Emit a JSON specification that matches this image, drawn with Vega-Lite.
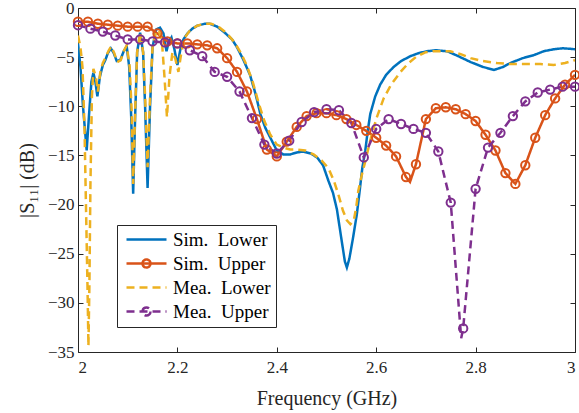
{
  "$schema": "https://vega.github.io/schema/vega-lite/v6.json",
  "width": 497,
  "height": 344,
  "autosize": {"type": "none"},
  "padding": {"left": 78, "top": 8, "right": 4, "bottom": 61},
  "background": "white",
  "config": {
    "view": {"stroke": "#262626", "strokeWidth": 1},
    "font": "Liberation Serif",
    "axis": {"grid": false, "domain": false, "tickColor": "#262626", "tickWidth": 1, "tickSize": -5, "labelFont": "Liberation Serif", "labelFontSize": 17, "labelColor": "#262626", "titleFont": "Liberation Serif", "titleFontSize": 20, "titleFontWeight": "normal", "titleColor": "#262626"}
  },
  "data": {"values": [
    {"s":"Sim. Lower","f":2.000,"db":-3.6,"m":0},{"s":"Sim. Lower","f":2.005,"db":-6.0,"m":0},{"s":"Sim. Lower","f":2.010,"db":-10.0,"m":0},{"s":"Sim. Lower","f":2.0175,"db":-14.5,"m":0},{"s":"Sim. Lower","f":2.022,"db":-11.0,"m":0},{"s":"Sim. Lower","f":2.027,"db":-7.5,"m":0},{"s":"Sim. Lower","f":2.031,"db":-6.6,"m":0},{"s":"Sim. Lower","f":2.035,"db":-7.5,"m":0},{"s":"Sim. Lower","f":2.039,"db":-9.0,"m":0},{"s":"Sim. Lower","f":2.044,"db":-7.0,"m":0},{"s":"Sim. Lower","f":2.050,"db":-5.8,"m":0},{"s":"Sim. Lower","f":2.055,"db":-5.3,"m":0},{"s":"Sim. Lower","f":2.060,"db":-4.6,"m":0},{"s":"Sim. Lower","f":2.066,"db":-4.1,"m":0},{"s":"Sim. Lower","f":2.072,"db":-4.6,"m":0},{"s":"Sim. Lower","f":2.078,"db":-5.4,"m":0},{"s":"Sim. Lower","f":2.085,"db":-5.3,"m":0},{"s":"Sim. Lower","f":2.092,"db":-4.4,"m":0},{"s":"Sim. Lower","f":2.098,"db":-3.9,"m":0},{"s":"Sim. Lower","f":2.103,"db":-6.0,"m":0},{"s":"Sim. Lower","f":2.107,"db":-11.0,"m":0},{"s":"Sim. Lower","f":2.111,"db":-18.9,"m":0},{"s":"Sim. Lower","f":2.115,"db":-11.0,"m":0},{"s":"Sim. Lower","f":2.119,"db":-4.5,"m":0},{"s":"Sim. Lower","f":2.125,"db":-2.5,"m":0},{"s":"Sim. Lower","f":2.131,"db":-4.5,"m":0},{"s":"Sim. Lower","f":2.135,"db":-10.0,"m":0},{"s":"Sim. Lower","f":2.140,"db":-18.3,"m":0},{"s":"Sim. Lower","f":2.145,"db":-10.0,"m":0},{"s":"Sim. Lower","f":2.150,"db":-4.0,"m":0},{"s":"Sim. Lower","f":2.157,"db":-2.2,"m":0},{"s":"Sim. Lower","f":2.165,"db":-2.0,"m":0},{"s":"Sim. Lower","f":2.172,"db":-2.6,"m":0},{"s":"Sim. Lower","f":2.178,"db":-4.4,"m":0},{"s":"Sim. Lower","f":2.183,"db":-3.4,"m":0},{"s":"Sim. Lower","f":2.188,"db":-3.0,"m":0},{"s":"Sim. Lower","f":2.194,"db":-4.2,"m":0},{"s":"Sim. Lower","f":2.200,"db":-5.8,"m":0},{"s":"Sim. Lower","f":2.206,"db":-4.2,"m":0},{"s":"Sim. Lower","f":2.212,"db":-3.2,"m":0},{"s":"Sim. Lower","f":2.220,"db":-2.6,"m":0},{"s":"Sim. Lower","f":2.230,"db":-2.1,"m":0},{"s":"Sim. Lower","f":2.240,"db":-1.8,"m":0},{"s":"Sim. Lower","f":2.255,"db":-1.6,"m":0},{"s":"Sim. Lower","f":2.265,"db":-1.6,"m":0},{"s":"Sim. Lower","f":2.280,"db":-1.9,"m":0},{"s":"Sim. Lower","f":2.295,"db":-2.5,"m":0},{"s":"Sim. Lower","f":2.310,"db":-3.2,"m":0},{"s":"Sim. Lower","f":2.320,"db":-4.0,"m":0},{"s":"Sim. Lower","f":2.333,"db":-5.3,"m":0},{"s":"Sim. Lower","f":2.346,"db":-6.8,"m":0},{"s":"Sim. Lower","f":2.357,"db":-8.7,"m":0},{"s":"Sim. Lower","f":2.367,"db":-10.8,"m":0},{"s":"Sim. Lower","f":2.377,"db":-12.2,"m":0},{"s":"Sim. Lower","f":2.387,"db":-13.2,"m":0},{"s":"Sim. Lower","f":2.400,"db":-14.5,"m":0},{"s":"Sim. Lower","f":2.413,"db":-14.9,"m":0},{"s":"Sim. Lower","f":2.427,"db":-14.9,"m":0},{"s":"Sim. Lower","f":2.440,"db":-14.7,"m":0},{"s":"Sim. Lower","f":2.453,"db":-14.6,"m":0},{"s":"Sim. Lower","f":2.468,"db":-14.8,"m":0},{"s":"Sim. Lower","f":2.481,"db":-15.2,"m":0},{"s":"Sim. Lower","f":2.493,"db":-16.0,"m":0},{"s":"Sim. Lower","f":2.504,"db":-17.6,"m":0},{"s":"Sim. Lower","f":2.513,"db":-18.8,"m":0},{"s":"Sim. Lower","f":2.521,"db":-20.5,"m":0},{"s":"Sim. Lower","f":2.530,"db":-23.5,"m":0},{"s":"Sim. Lower","f":2.537,"db":-25.8,"m":0},{"s":"Sim. Lower","f":2.541,"db":-26.4,"m":0},{"s":"Sim. Lower","f":2.546,"db":-25.5,"m":0},{"s":"Sim. Lower","f":2.553,"db":-23.5,"m":0},{"s":"Sim. Lower","f":2.561,"db":-21.0,"m":0},{"s":"Sim. Lower","f":2.567,"db":-18.5,"m":0},{"s":"Sim. Lower","f":2.572,"db":-16.3,"m":0},{"s":"Sim. Lower","f":2.578,"db":-14.5,"m":0},{"s":"Sim. Lower","f":2.583,"db":-12.5,"m":0},{"s":"Sim. Lower","f":2.588,"db":-10.8,"m":0},{"s":"Sim. Lower","f":2.598,"db":-9.0,"m":0},{"s":"Sim. Lower","f":2.608,"db":-7.8,"m":0},{"s":"Sim. Lower","f":2.620,"db":-6.8,"m":0},{"s":"Sim. Lower","f":2.635,"db":-6.0,"m":0},{"s":"Sim. Lower","f":2.650,"db":-5.4,"m":0},{"s":"Sim. Lower","f":2.669,"db":-4.9,"m":0},{"s":"Sim. Lower","f":2.685,"db":-4.6,"m":0},{"s":"Sim. Lower","f":2.702,"db":-4.4,"m":0},{"s":"Sim. Lower","f":2.720,"db":-4.3,"m":0},{"s":"Sim. Lower","f":2.743,"db":-4.4,"m":0},{"s":"Sim. Lower","f":2.765,"db":-4.9,"m":0},{"s":"Sim. Lower","f":2.790,"db":-5.5,"m":0},{"s":"Sim. Lower","f":2.815,"db":-6.0,"m":0},{"s":"Sim. Lower","f":2.837,"db":-6.3,"m":0},{"s":"Sim. Lower","f":2.855,"db":-6.0,"m":0},{"s":"Sim. Lower","f":2.870,"db":-5.6,"m":0},{"s":"Sim. Lower","f":2.895,"db":-5.1,"m":0},{"s":"Sim. Lower","f":2.917,"db":-4.8,"m":0},{"s":"Sim. Lower","f":2.937,"db":-4.4,"m":0},{"s":"Sim. Lower","f":2.957,"db":-4.2,"m":0},{"s":"Sim. Lower","f":2.975,"db":-4.1,"m":0},{"s":"Sim. Lower","f":2.990,"db":-4.15,"m":0},{"s":"Sim. Lower","f":3.000,"db":-4.2,"m":0},

    {"s":"Sim. Upper","f":2.00,"db":-1.4,"m":1},{"s":"Sim. Upper","f":2.02,"db":-1.4,"m":1},{"s":"Sim. Upper","f":2.04,"db":-1.6,"m":1},{"s":"Sim. Upper","f":2.06,"db":-1.7,"m":1},{"s":"Sim. Upper","f":2.08,"db":-1.8,"m":1},{"s":"Sim. Upper","f":2.10,"db":-1.9,"m":1},{"s":"Sim. Upper","f":2.12,"db":-1.9,"m":1},{"s":"Sim. Upper","f":2.14,"db":-1.9,"m":1},{"s":"Sim. Upper","f":2.16,"db":-2.6,"m":1},{"s":"Sim. Upper","f":2.18,"db":-3.4,"m":1},{"s":"Sim. Upper","f":2.20,"db":-3.6,"m":1},{"s":"Sim. Upper","f":2.22,"db":-3.6,"m":1},{"s":"Sim. Upper","f":2.24,"db":-3.7,"m":1},{"s":"Sim. Upper","f":2.26,"db":-3.8,"m":1},{"s":"Sim. Upper","f":2.28,"db":-4.1,"m":1},{"s":"Sim. Upper","f":2.30,"db":-5.1,"m":1},{"s":"Sim. Upper","f":2.32,"db":-6.5,"m":1},{"s":"Sim. Upper","f":2.34,"db":-8.5,"m":1},{"s":"Sim. Upper","f":2.36,"db":-11.3,"m":1},{"s":"Sim. Upper","f":2.38,"db":-14.4,"m":1},{"s":"Sim. Upper","f":2.40,"db":-15.1,"m":1},{"s":"Sim. Upper","f":2.42,"db":-13.6,"m":1},{"s":"Sim. Upper","f":2.44,"db":-12.1,"m":1},{"s":"Sim. Upper","f":2.46,"db":-11.0,"m":1},{"s":"Sim. Upper","f":2.48,"db":-10.7,"m":1},{"s":"Sim. Upper","f":2.50,"db":-10.7,"m":1},{"s":"Sim. Upper","f":2.52,"db":-10.9,"m":1},{"s":"Sim. Upper","f":2.54,"db":-11.3,"m":1},{"s":"Sim. Upper","f":2.56,"db":-11.9,"m":1},{"s":"Sim. Upper","f":2.58,"db":-12.5,"m":1},{"s":"Sim. Upper","f":2.60,"db":-13.2,"m":1},{"s":"Sim. Upper","f":2.62,"db":-14.0,"m":1},{"s":"Sim. Upper","f":2.64,"db":-15.1,"m":1},{"s":"Sim. Upper","f":2.66,"db":-17.2,"m":1},{"s":"Sim. Upper","f":2.668,"db":-17.7,"m":0},{"s":"Sim. Upper","f":2.68,"db":-15.9,"m":1},{"s":"Sim. Upper","f":2.70,"db":-11.3,"m":1},{"s":"Sim. Upper","f":2.72,"db":-10.2,"m":1},{"s":"Sim. Upper","f":2.74,"db":-10.1,"m":1},{"s":"Sim. Upper","f":2.76,"db":-10.3,"m":1},{"s":"Sim. Upper","f":2.78,"db":-10.8,"m":1},{"s":"Sim. Upper","f":2.80,"db":-11.5,"m":1},{"s":"Sim. Upper","f":2.82,"db":-12.9,"m":1},{"s":"Sim. Upper","f":2.84,"db":-14.5,"m":1},{"s":"Sim. Upper","f":2.86,"db":-16.8,"m":1},{"s":"Sim. Upper","f":2.88,"db":-17.9,"m":1},{"s":"Sim. Upper","f":2.90,"db":-16.0,"m":1},{"s":"Sim. Upper","f":2.92,"db":-13.2,"m":1},{"s":"Sim. Upper","f":2.94,"db":-10.9,"m":1},{"s":"Sim. Upper","f":2.96,"db":-9.2,"m":1},{"s":"Sim. Upper","f":2.98,"db":-7.8,"m":1},{"s":"Sim. Upper","f":3.00,"db":-6.8,"m":1},

    {"s":"Mea. Lower","f":2.000,"db":-2.8,"m":0},{"s":"Mea. Lower","f":2.005,"db":-4.0,"m":0},{"s":"Mea. Lower","f":2.009,"db":-6.0,"m":0},{"s":"Mea. Lower","f":2.013,"db":-12.0,"m":0},{"s":"Mea. Lower","f":2.016,"db":-20.0,"m":0},{"s":"Mea. Lower","f":2.019,"db":-28.0,"m":0},{"s":"Mea. Lower","f":2.021,"db":-34.4,"m":0},{"s":"Mea. Lower","f":2.023,"db":-28.0,"m":0},{"s":"Mea. Lower","f":2.025,"db":-18.0,"m":0},{"s":"Mea. Lower","f":2.028,"db":-9.0,"m":0},{"s":"Mea. Lower","f":2.031,"db":-6.2,"m":0},{"s":"Mea. Lower","f":2.036,"db":-7.0,"m":0},{"s":"Mea. Lower","f":2.040,"db":-8.5,"m":0},{"s":"Mea. Lower","f":2.045,"db":-6.5,"m":0},{"s":"Mea. Lower","f":2.050,"db":-5.6,"m":0},{"s":"Mea. Lower","f":2.056,"db":-5.0,"m":0},{"s":"Mea. Lower","f":2.062,"db":-4.3,"m":0},{"s":"Mea. Lower","f":2.067,"db":-3.9,"m":0},{"s":"Mea. Lower","f":2.073,"db":-4.6,"m":0},{"s":"Mea. Lower","f":2.079,"db":-5.5,"m":0},{"s":"Mea. Lower","f":2.086,"db":-5.3,"m":0},{"s":"Mea. Lower","f":2.092,"db":-4.4,"m":0},{"s":"Mea. Lower","f":2.098,"db":-3.8,"m":0},{"s":"Mea. Lower","f":2.104,"db":-6.0,"m":0},{"s":"Mea. Lower","f":2.108,"db":-10.5,"m":0},{"s":"Mea. Lower","f":2.111,"db":-17.9,"m":0},{"s":"Mea. Lower","f":2.115,"db":-10.5,"m":0},{"s":"Mea. Lower","f":2.119,"db":-4.5,"m":0},{"s":"Mea. Lower","f":2.125,"db":-2.5,"m":0},{"s":"Mea. Lower","f":2.131,"db":-4.5,"m":0},{"s":"Mea. Lower","f":2.135,"db":-9.0,"m":0},{"s":"Mea. Lower","f":2.140,"db":-16.2,"m":0},{"s":"Mea. Lower","f":2.145,"db":-9.0,"m":0},{"s":"Mea. Lower","f":2.150,"db":-4.0,"m":0},{"s":"Mea. Lower","f":2.157,"db":-2.4,"m":0},{"s":"Mea. Lower","f":2.163,"db":-2.3,"m":0},{"s":"Mea. Lower","f":2.169,"db":-3.5,"m":0},{"s":"Mea. Lower","f":2.174,"db":-7.0,"m":0},{"s":"Mea. Lower","f":2.179,"db":-11.1,"m":0},{"s":"Mea. Lower","f":2.184,"db":-7.0,"m":0},{"s":"Mea. Lower","f":2.190,"db":-4.5,"m":0},{"s":"Mea. Lower","f":2.196,"db":-5.2,"m":0},{"s":"Mea. Lower","f":2.202,"db":-6.5,"m":0},{"s":"Mea. Lower","f":2.208,"db":-4.5,"m":0},{"s":"Mea. Lower","f":2.215,"db":-3.0,"m":0},{"s":"Mea. Lower","f":2.225,"db":-2.3,"m":0},{"s":"Mea. Lower","f":2.240,"db":-1.8,"m":0},{"s":"Mea. Lower","f":2.255,"db":-1.6,"m":0},{"s":"Mea. Lower","f":2.268,"db":-1.6,"m":0},{"s":"Mea. Lower","f":2.285,"db":-2.0,"m":0},{"s":"Mea. Lower","f":2.300,"db":-2.6,"m":0},{"s":"Mea. Lower","f":2.315,"db":-3.5,"m":0},{"s":"Mea. Lower","f":2.328,"db":-4.6,"m":0},{"s":"Mea. Lower","f":2.340,"db":-5.9,"m":0},{"s":"Mea. Lower","f":2.352,"db":-7.6,"m":0},{"s":"Mea. Lower","f":2.363,"db":-9.6,"m":0},{"s":"Mea. Lower","f":2.375,"db":-11.5,"m":0},{"s":"Mea. Lower","f":2.387,"db":-12.9,"m":0},{"s":"Mea. Lower","f":2.400,"db":-13.9,"m":0},{"s":"Mea. Lower","f":2.413,"db":-14.2,"m":0},{"s":"Mea. Lower","f":2.427,"db":-14.4,"m":0},{"s":"Mea. Lower","f":2.440,"db":-14.4,"m":0},{"s":"Mea. Lower","f":2.457,"db":-14.5,"m":0},{"s":"Mea. Lower","f":2.474,"db":-14.9,"m":0},{"s":"Mea. Lower","f":2.490,"db":-15.5,"m":0},{"s":"Mea. Lower","f":2.504,"db":-16.3,"m":0},{"s":"Mea. Lower","f":2.515,"db":-17.6,"m":0},{"s":"Mea. Lower","f":2.524,"db":-19.0,"m":0},{"s":"Mea. Lower","f":2.533,"db":-20.6,"m":0},{"s":"Mea. Lower","f":2.541,"db":-21.6,"m":0},{"s":"Mea. Lower","f":2.548,"db":-22.0,"m":0},{"s":"Mea. Lower","f":2.555,"db":-21.6,"m":0},{"s":"Mea. Lower","f":2.560,"db":-20.2,"m":0},{"s":"Mea. Lower","f":2.564,"db":-18.6,"m":0},{"s":"Mea. Lower","f":2.571,"db":-17.0,"m":0},{"s":"Mea. Lower","f":2.578,"db":-15.6,"m":0},{"s":"Mea. Lower","f":2.588,"db":-13.5,"m":0},{"s":"Mea. Lower","f":2.600,"db":-11.3,"m":0},{"s":"Mea. Lower","f":2.615,"db":-9.2,"m":0},{"s":"Mea. Lower","f":2.630,"db":-7.8,"m":0},{"s":"Mea. Lower","f":2.649,"db":-6.5,"m":0},{"s":"Mea. Lower","f":2.665,"db":-5.6,"m":0},{"s":"Mea. Lower","f":2.682,"db":-4.9,"m":0},{"s":"Mea. Lower","f":2.700,"db":-4.5,"m":0},{"s":"Mea. Lower","f":2.715,"db":-4.4,"m":0},{"s":"Mea. Lower","f":2.749,"db":-4.4,"m":0},{"s":"Mea. Lower","f":2.770,"db":-4.7,"m":0},{"s":"Mea. Lower","f":2.790,"db":-5.1,"m":0},{"s":"Mea. Lower","f":2.815,"db":-5.4,"m":0},{"s":"Mea. Lower","f":2.843,"db":-5.6,"m":0},{"s":"Mea. Lower","f":2.870,"db":-5.7,"m":0},{"s":"Mea. Lower","f":2.897,"db":-5.7,"m":0},{"s":"Mea. Lower","f":2.930,"db":-5.7,"m":0},{"s":"Mea. Lower","f":2.957,"db":-5.8,"m":0},{"s":"Mea. Lower","f":2.980,"db":-5.6,"m":0},{"s":"Mea. Lower","f":3.000,"db":-5.3,"m":0},

    {"s":"Mea. Upper","f":2.000,"db":-1.75,"m":1},{"s":"Mea. Upper","f":2.025,"db":-2.1,"m":1},{"s":"Mea. Upper","f":2.050,"db":-2.4,"m":1},{"s":"Mea. Upper","f":2.075,"db":-2.8,"m":1},{"s":"Mea. Upper","f":2.100,"db":-3.2,"m":1},{"s":"Mea. Upper","f":2.125,"db":-3.2,"m":1},{"s":"Mea. Upper","f":2.150,"db":-3.4,"m":1},{"s":"Mea. Upper","f":2.175,"db":-3.5,"m":1},{"s":"Mea. Upper","f":2.200,"db":-3.6,"m":1},{"s":"Mea. Upper","f":2.225,"db":-4.3,"m":1},{"s":"Mea. Upper","f":2.250,"db":-4.9,"m":1},{"s":"Mea. Upper","f":2.275,"db":-6.5,"m":1},{"s":"Mea. Upper","f":2.300,"db":-7.0,"m":1},{"s":"Mea. Upper","f":2.325,"db":-8.5,"m":1},{"s":"Mea. Upper","f":2.350,"db":-11.2,"m":1},{"s":"Mea. Upper","f":2.375,"db":-13.9,"m":1},{"s":"Mea. Upper","f":2.400,"db":-14.8,"m":1},{"s":"Mea. Upper","f":2.425,"db":-13.5,"m":1},{"s":"Mea. Upper","f":2.450,"db":-11.6,"m":1},{"s":"Mea. Upper","f":2.475,"db":-10.6,"m":1},{"s":"Mea. Upper","f":2.500,"db":-10.3,"m":1},{"s":"Mea. Upper","f":2.525,"db":-10.4,"m":1},{"s":"Mea. Upper","f":2.550,"db":-11.7,"m":1},{"s":"Mea. Upper","f":2.575,"db":-15.2,"m":1},{"s":"Mea. Upper","f":2.600,"db":-12.3,"m":1},{"s":"Mea. Upper","f":2.625,"db":-11.3,"m":1},{"s":"Mea. Upper","f":2.650,"db":-11.8,"m":1},{"s":"Mea. Upper","f":2.675,"db":-12.3,"m":1},{"s":"Mea. Upper","f":2.700,"db":-12.7,"m":1},{"s":"Mea. Upper","f":2.725,"db":-14.6,"m":1},{"s":"Mea. Upper","f":2.750,"db":-19.8,"m":1},{"s":"Mea. Upper","f":2.771,"db":-33.6,"m":0},{"s":"Mea. Upper","f":2.775,"db":-32.6,"m":1},{"s":"Mea. Upper","f":2.800,"db":-18.4,"m":1},{"s":"Mea. Upper","f":2.825,"db":-14.2,"m":1},{"s":"Mea. Upper","f":2.850,"db":-12.7,"m":1},{"s":"Mea. Upper","f":2.875,"db":-11.0,"m":1},{"s":"Mea. Upper","f":2.900,"db":-9.5,"m":1},{"s":"Mea. Upper","f":2.925,"db":-8.6,"m":1},{"s":"Mea. Upper","f":2.950,"db":-8.3,"m":1},{"s":"Mea. Upper","f":2.975,"db":-8.0,"m":1},{"s":"Mea. Upper","f":3.000,"db":-8.0,"m":1}
  ]},
  "resolve": {"axis": {"x": "independent", "y": "independent"}},
  "layer": [
    {
      "mark": {"type": "line", "strokeWidth": 2.5, "clip": true},
      "encoding": {
        "x": {"field": "f", "type": "quantitative", "scale": {"domain": [2, 3], "nice": false, "zero": false},
              "axis": {"orient": "bottom", "values": [2, 2.2, 2.4, 2.6, 2.8, 3], "format": "~g", "labelPadding": 12, "title": "Frequency (GHz)", "titlePadding": 13}},
        "y": {"field": "db", "type": "quantitative", "scale": {"domain": [-35, 0], "nice": false, "zero": false},
              "axis": {"orient": "left", "values": [-35, -30, -25, -20, -15, -10, -5, 0], "labelPadding": 9, "labelExpr": "datum.value == 0 ? '0' : '\u2212' + abs(datum.value)", "title": "|S₁₁| (dB)", "titlePadding": 10}},
        "color": {"field": "s", "type": "nominal",
                  "scale": {"domain": ["Sim. Lower", "Sim. Upper", "Mea. Lower", "Mea. Upper"], "range": ["#0072BD", "#D95319", "#EDB120", "#7E2F8E"]},
                  "legend": {"orient": "none", "legendX": 39, "legendY": 217, "title": null, "labelFont": "Liberation Serif", "labelFontSize": 19, "labelColor": "black", "labelOffset": 32, "labelLimit": 0,
                             "labelExpr": "replace(datum.label, '. ', '.\u00a0 ') + '\u00a0\u00a0\u00a0'",
                             "strokeColor": "#262626", "fillColor": "white", "padding": 5, "rowPadding": 4, "symbolType": "stroke", "symbolSize": 100, "symbolStrokeWidth": 2.5,
                             "encode": {"symbols": {"update": {
                               "shape": {"signal": "indexof(datum.value, 'Upper') >= 0 ? 'M-1,0L7,0M3.8,0A0.8,0.8,0,1,1,2.2,0A0.8,0.8,0,1,1,3.8,0' : 'M-1,0L7,0'"},
                               "strokeDash": {"signal": "indexof(datum.value, 'Mea') >= 0 ? [8, 5] : [1, 0]"},
                               "fill": {"value": "transparent"},
                               "strokeWidth": {"value": 2.5}
                             }}}}},
        "strokeDash": {"field": "s", "type": "nominal",
                       "scale": {"domain": ["Sim. Lower", "Sim. Upper", "Mea. Lower", "Mea. Upper"], "range": [[1, 0], [1, 0], [8, 5], [8, 5]]},
                       "legend": null}
      }
    },
    {
      "transform": [{"filter": "datum.m == 1"}],
      "mark": {"type": "point", "shape": "circle", "filled": false, "size": 70, "strokeWidth": 2, "opacity": 1},
      "encoding": {
        "x": {"field": "f", "type": "quantitative", "axis": {"orient": "top", "values": [2, 2.2, 2.4, 2.6, 2.8, 3], "labels": false, "title": null}},
        "y": {"field": "db", "type": "quantitative", "axis": {"orient": "right", "values": [-35, -30, -25, -20, -15, -10, -5, 0], "labels": false, "title": null}},
        "color": {"field": "s", "type": "nominal", "legend": null}
      }
    }
  ]
}
